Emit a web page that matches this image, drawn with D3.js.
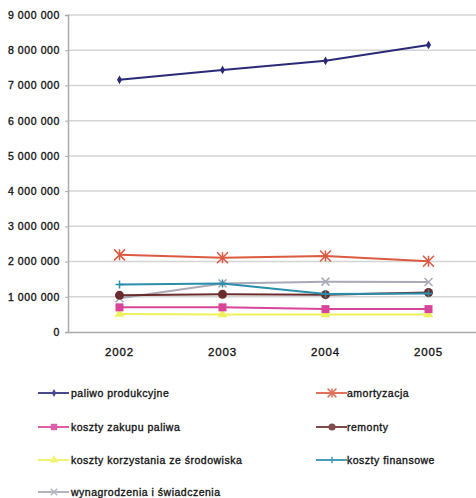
<!DOCTYPE html>
<html>
<head>
<meta charset="utf-8">
<script src="https://cdn.jsdelivr.net/npm/d3@7"></script>
<style>
  html, body { margin: 0; padding: 0; background: #fff; }
  svg { display: block; }
  text { font-family: "Liberation Sans", Arial, sans-serif; fill: #111; }
</style>
</head>
<body>
<svg id="chart" width="476" height="498"></svg>
<script>
// Years on the horizontal axis
const years = ["2002", "2003", "2004", "2005"];

// Cost series (PLN)
const paliwoProdukcyjne = [7160000, 7440000, 7700000, 8150000];
const amortyzacja = [2190000, 2110000, 2160000, 2010000];
const kosztyZakupuPaliwa = [700000, 700000, 650000, 650000];
const remonty = [1040000, 1070000, 1060000, 1120000];
const kosztyKorzystania = [510000, 500000, 500000, 500000];
const kosztyFinansowe = [1350000, 1380000, 1080000, 1090000];
const wynagrodzenia = [960000, 1380000, 1430000, 1420000];

// Value axis ticks
const yTicks = [0, 1000000, 2000000, 3000000, 4000000, 5000000, 6000000, 7000000, 8000000, 9000000];

const series = [
  { name: "paliwo produkcyjne", values: paliwoProdukcyjne, color: "#2b2a78", marker: "diamond", col: 0, row: 0 },
  { name: "amortyzacja", values: amortyzacja, color: "#dc5a40", marker: "star", col: 1, row: 0 },
  { name: "koszty zakupu paliwa", values: kosztyZakupuPaliwa, color: "#d8449a", marker: "square", col: 0, row: 1 },
  { name: "remonty", values: remonty, color: "#6a2c2c", marker: "circle", col: 1, row: 1 },
  { name: "koszty korzystania ze środowiska", values: kosztyKorzystania, color: "#eef25a", marker: "triangle", col: 0, row: 2 },
  { name: "koszty finansowe", values: kosztyFinansowe, color: "#2a8fab", marker: "plus", col: 1, row: 2 },
  { name: "wynagrodzenia i świadczenia", values: wynagrodzenia, color: "#a9a9b8", marker: "cross", col: 0, row: 3 }
];

const svg = d3.select("#chart");
const plot = { left: 68, right: 480, top: 15, bottom: 332 };

const x = d3.scaleBand().domain(years).range([plot.left, plot.right]);
const y = d3.scaleLinear().domain([0, 9000000]).range([plot.bottom, plot.top]);
const cx = d => x(d) + x.bandwidth() / 2;

const fmt = v => d3.format(",")(v).replace(/,/g, " ");

// Shared label styling: regular weight, slightly thickened and spaced
function styleText(sel, size, spacing) {
  sel.attr("font-size", size)
    .attr("font-weight", "normal")
    .attr("fill", "#1a1a1a")
    .attr("stroke", "#1a1a1a")
    .attr("stroke-width", 0.35)
    .attr("letter-spacing", spacing)
    .style("font-family", '"Liberation Sans", Arial, sans-serif');
}

// Horizontal gridlines
svg.append("g")
  .selectAll("line")
  .data(yTicks.filter(t => t > 0))
  .join("line")
  .attr("x1", plot.left).attr("x2", plot.right)
  .attr("y1", d => y(d)).attr("y2", d => y(d))
  .attr("stroke", "#d4d4d4").attr("stroke-width", 1.5);

// Value axis
const yAxis = svg.append("g")
  .attr("transform", `translate(${plot.left},0)`)
  .call(d3.axisLeft(y).tickValues(yTicks).tickFormat(fmt).tickSize(3).tickPadding(5));
yAxis.select(".domain").attr("stroke", "#aaa").attr("stroke-width", 1.5);
yAxis.selectAll(".tick line").attr("stroke", "#aaa");
styleText(yAxis.selectAll("text"), 10.5, 0.6);

// Category axis
const xAxis = svg.append("g")
  .attr("transform", `translate(0,${plot.bottom})`)
  .call(d3.axisBottom(x).tickSize(0).tickPadding(16));
xAxis.select(".domain").attr("stroke", "#aaa").attr("stroke-width", 1.5);
styleText(xAxis.selectAll("text"), 11.5, 0.8);

// Marker shapes
function drawMarker(g, type, color, px, py, scale) {
  const s = scale || 1;
  if (type === "diamond") {
    g.append("path").attr("d", d3.symbol(d3.symbolDiamond, 22 * s)())
      .attr("transform", `translate(${px},${py})`).attr("fill", color);
  } else if (type === "square") {
    g.append("rect").attr("x", px - 4 * s).attr("y", py - 4 * s)
      .attr("width", 8 * s).attr("height", 8 * s).attr("fill", color);
  } else if (type === "circle") {
    g.append("circle").attr("cx", px).attr("cy", py).attr("r", 4.5 * s).attr("fill", color);
  } else if (type === "triangle") {
    g.append("path").attr("d", d3.symbol(d3.symbolTriangle, 40 * s)())
      .attr("transform", `translate(${px},${py})`).attr("fill", color);
  } else if (type === "plus") {
    g.append("path").attr("d", `M${px - 4 * s},${py}H${px + 4 * s}M${px},${py - 4 * s}V${py + 4 * s}`)
      .attr("stroke", color).attr("stroke-width", 1.5);
  } else if (type === "cross") {
    const r = 4 * s;
    g.append("path").attr("d", `M${px - r},${py - r}L${px + r},${py + r}M${px - r},${py + r}L${px + r},${py - r}`)
      .attr("stroke", color).attr("stroke-width", 1.5);
  } else if (type === "star") {
    const r = 5.5 * s;
    g.append("path").attr("d",
      `M${px - r},${py - r}L${px + r},${py + r}M${px - r},${py + r}L${px + r},${py - r}M${px},${py - r}V${py + r}`)
      .attr("stroke", color).attr("stroke-width", 1.5);
  }
}

// Lines, drawn so the lower series sit under the upper ones
const line = d3.line().x((d, i) => cx(years[i])).y(d => y(d));
const drawOrder = [4, 2, 6, 3, 5, 1, 0];
drawOrder.forEach(idx => {
  const s = series[idx];
  const g = svg.append("g");
  g.append("path").attr("d", line(s.values))
    .attr("fill", "none").attr("stroke", s.color).attr("stroke-width", 2);
  s.values.forEach((v, i) => drawMarker(g, s.marker, s.color, cx(years[i]), y(v)));
});

// Legend in two columns
const legendCols = [{ lx: 38, tx: 71 }, { lx: 316, tx: 347 }];
const legendRows = [393, 427, 460, 492];
const legend = svg.append("g");
series.forEach(s => {
  const c = legendCols[s.col];
  const ly = legendRows[s.row];
  const g = legend.append("g").attr("opacity", 0.85);
  g.append("line").attr("x1", c.lx).attr("x2", c.lx + 31).attr("y1", ly).attr("y2", ly)
    .attr("stroke", s.color).attr("stroke-width", 2);
  drawMarker(g, s.marker, s.color, c.lx + 16, ly, 0.8);
  const t = legend.append("text").attr("x", c.tx).attr("y", ly + 4).text(s.name);
  styleText(t, 10.5, 0.5);
});
</script>
</body>
</html>
